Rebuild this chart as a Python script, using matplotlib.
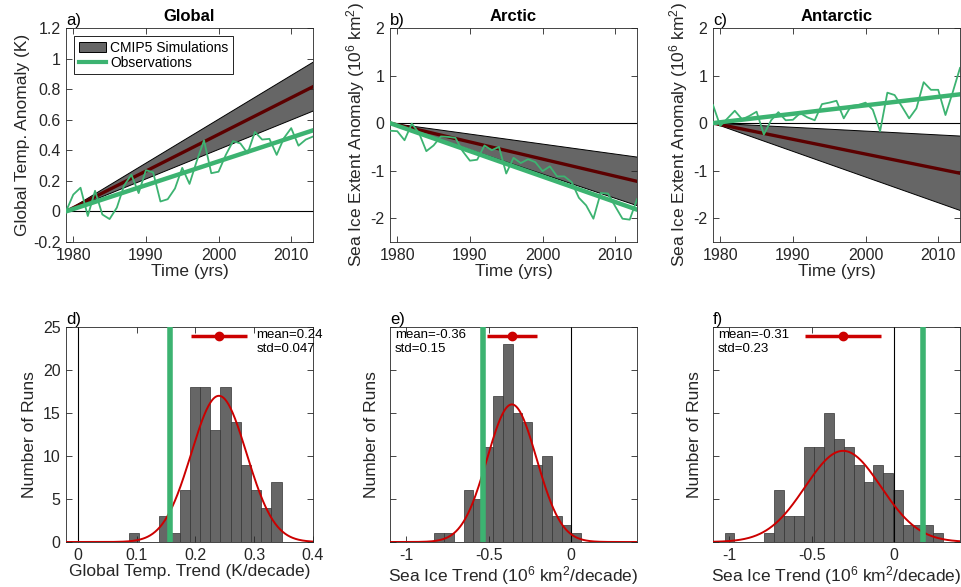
import numpy as np
import matplotlib
matplotlib.use('Agg')
import matplotlib.pyplot as plt
from matplotlib.patches import Patch
from matplotlib.lines import Line2D
from matplotlib.ticker import FuncFormatter

plt.rcParams['font.family'] = ['Liberation Sans', 'DejaVu Sans']
plt.rcParams['mathtext.fontset'] = 'custom'
plt.rcParams['mathtext.rm'] = 'Liberation Sans'
plt.rcParams['mathtext.it'] = 'Liberation Sans:italic'
plt.rcParams['axes.unicode_minus'] = False

# ---- data ----
years = np.arange(1979, 2014)
titles = ['Global', 'Arctic', 'Antarctic']
top_tags = ['a)', 'b)', 'c)']
bottom_tags = ['d)', 'e)', 'f)']

obs_global = [0, 0.11, 0.155, -0.03, 0.135, -0.02, -0.05, 0.025, 0.17, 0.24, 0.12,
              0.27, 0.255, 0.065, 0.08, 0.15, 0.285, 0.18, 0.33, 0.465, 0.25, 0.26,
              0.37, 0.46, 0.445, 0.38, 0.52, 0.47, 0.475, 0.37, 0.48, 0.545, 0.43,
              0.47, 0.49]
obs_arctic = [-0.16, -0.17, -0.36, -0.01, -0.21, -0.59, -0.47, -0.28, -0.29, -0.31,
              -0.59, -0.79, -0.77, -0.47, -0.57, -0.5, -1.06, -0.73, -0.84, -0.76,
              -0.82, -1.01, -0.91, -1.12, -1.12, -1.24, -1.57, -1.73, -2.01, -1.47,
              -1.48, -1.75, -2.01, -2.03, -1.6]
obs_antarctic = [0.38, -0.06, 0.1, 0.26, 0.08, 0.15, 0.24, -0.24, 0.06, 0.23, 0.06,
                 0.07, 0.21, 0.12, 0.06, 0.4, 0.43, 0.47, 0.1, 0.36, 0.38, 0.43, 0.28,
                 -0.17, 0.64, 0.59, 0.35, 0.1, 0.31, 0.86, 0.7, 0.7, 0.17, 0.65, 1.16]
obs_series = [obs_global, obs_arctic, obs_antarctic]

# trends per decade
obs_trend = [0.156, -0.535, 0.178]
cmip_mean = [0.24, -0.36, -0.31]
cmip_std = [0.047, 0.15, 0.23]
mean_labels = ['mean=0.24', 'mean=-0.36', 'mean=-0.31']
std_labels = ['std=0.047', 'std=0.15', 'std=0.23']

# histograms of model trends
hist_start = [0.087, -0.831, -1.030]
hist_width = [0.0173, 0.0595, 0.0603]
counts_global = [1, 0, 0, 3, 1, 6, 18, 18, 13, 18, 14, 9, 6, 4, 7]
counts_arctic = [1, 1, 0, 6, 5, 11, 17, 23, 15, 14, 9, 10, 3, 2, 1]
counts_antarctic = [1, 0, 0, 0, 1, 6, 3, 3, 11, 11, 15, 12, 11, 9, 7, 9, 8, 6, 2, 2, 2, 1]
hist_counts = [counts_global, counts_arctic, counts_antarctic]
fit_peak = [17.0, 16.0, 10.6]

# ---- styles ----
green = '#3cb371'
darkred = '#5c0000'
red = '#cc0000'
fill_gray = '#666666'
axcol = '#262626'

top_ylims = [(-0.2, 1.2), (-2.5, 2), (-2.5, 2)]
top_yticks = [np.arange(-0.2, 1.21, 0.2), [-2, -1, 0, 1, 2], [-2, -1, 0, 1, 2]]
top_ylabels = ['Global Temp. Anomaly (K)',
               r'Sea Ice Extent Anomaly (10$^6$ km$^2$)',
               r'Sea Ice Extent Anomaly (10$^6$ km$^2$)']
bot_xlims = [(-0.02, 0.4), (-1.1, 0.4), (-1.1, 0.4)]
bot_xticks = [[0, 0.1, 0.2, 0.3, 0.4], [-1, -0.5, 0], [-1, -0.5, 0]]
bot_xlabels = ['Global Temp. Trend (K/decade)',
               r'Sea Ice Trend (10$^6$ km$^2$/decade)',
               r'Sea Ice Trend (10$^6$ km$^2$/decade)']
stat_x = [0.77, 0.02, 0.02]

fmt = FuncFormatter(lambda v, _: f'{v:g}')

W, H = 961, 587
fig = plt.figure(figsize=(W / 100, H / 100), dpi=100)
lefts = [66, 390, 713]


def style(ax):
    ax.tick_params(direction='in', length=4, width=0.6, top=True, right=True,
                   labelsize=11.5, colors=axcol, pad=4)
    for s in ax.spines.values():
        s.set_linewidth(0.6)
        s.set_color(axcol)


for i in range(3):
    # ---------- top row: time series ----------
    ax = fig.add_axes([lefts[i] / W, (H - 242) / H, 247 / W, 214 / H])
    style(ax)
    t = (years - years[0]) / 10.0
    m = cmip_mean[i] * t
    lo = (cmip_mean[i] - cmip_std[i]) * t
    hi = (cmip_mean[i] + cmip_std[i]) * t
    ax.fill_between(years, lo, hi, facecolor=fill_gray, edgecolor='none', zorder=1)
    ax.plot(years, lo, color='black', lw=0.7, zorder=2)
    ax.plot(years, hi, color='black', lw=0.7, zorder=2)
    ax.axhline(0, color='black', lw=0.8, zorder=2)
    ax.plot(years, m, color=darkred, lw=2.4, zorder=3)
    ax.plot(years, obs_series[i], color=green, lw=1.3, zorder=4)
    ax.plot(years, obs_trend[i] * t, color=green, lw=3.2, zorder=5)
    ax.set_xlim(1979, 2013)
    ax.set_ylim(*top_ylims[i])
    ax.set_xticks([1980, 1990, 2000, 2010])
    ax.set_yticks(top_yticks[i])
    ax.yaxis.set_major_formatter(fmt)
    ax.set_xlabel('Time (yrs)', fontsize=12.5, color=axcol, labelpad=1)
    ax.set_ylabel(top_ylabels[i], fontsize=12.5, color=axcol, labelpad=2)
    ax.set_title(titles[i], fontsize=12, fontweight='bold', pad=5)
    ax.text(0, 1.0, top_tags[i], transform=ax.transAxes, ha='left', va='bottom',
            fontsize=12)
    if i == 0:
        handles = [Patch(facecolor=fill_gray, edgecolor='black', lw=0.7),
                   Line2D([], [], color=green, lw=3)]
        leg = ax.legend(handles, ['CMIP5 Simulations', 'Observations'],
                        loc='upper left', fontsize=10, fancybox=False,
                        edgecolor='black', framealpha=1, borderpad=0.3,
                        labelspacing=0.1, handlelength=2.0, handletextpad=0.3,
                        borderaxespad=0.6)
        leg.get_frame().set_linewidth(0.6)

    # ---------- bottom row: histograms ----------
    bx = fig.add_axes([lefts[i] / W, (H - 542) / H, 247 / W, 215 / H])
    style(bx)
    cnt = np.array(hist_counts[i])
    edges = hist_start[i] + hist_width[i] * np.arange(len(cnt))
    bx.bar(edges, cnt, width=hist_width[i], align='edge', color=fill_gray,
           edgecolor='#333333', lw=0.5, zorder=1)
    bx.axvline(0, color='black', lw=0.8, zorder=2)
    xs = np.linspace(bot_xlims[i][0], bot_xlims[i][1], 400)
    gauss = fit_peak[i] * np.exp(-(xs - cmip_mean[i]) ** 2 / (2 * cmip_std[i] ** 2))
    bx.plot(xs, gauss, color=red, lw=1.4, zorder=3)
    bx.axvline(obs_trend[i], color=green, lw=4, zorder=4)
    bx.errorbar(cmip_mean[i], 24, xerr=cmip_std[i], fmt='o', color=red, ms=6,
                lw=2.5, capsize=0, zorder=5)
    bx.text(stat_x[i], 0.961, mean_labels[i], transform=bx.transAxes,
            ha='left', va='center', fontsize=9.5)
    bx.text(stat_x[i], 0.899, std_labels[i], transform=bx.transAxes,
            ha='left', va='center', fontsize=9.5)
    bx.set_xlim(*bot_xlims[i])
    bx.set_ylim(0, 25)
    bx.set_xticks(bot_xticks[i])
    bx.xaxis.set_major_formatter(fmt)
    bx.set_yticks([0, 5, 10, 15, 20, 25])
    if i > 0:
        bx.set_yticklabels([])
    bx.set_xlabel(bot_xlabels[i], fontsize=12.5, color=axcol, labelpad=1)
    bx.set_ylabel('Number of Runs', fontsize=12.5, color=axcol, labelpad=4)
    bx.text(0, 1.0, bottom_tags[i], transform=bx.transAxes, ha='left',
            va='bottom', fontsize=12)

fig.savefig('out.png', dpi=100)
